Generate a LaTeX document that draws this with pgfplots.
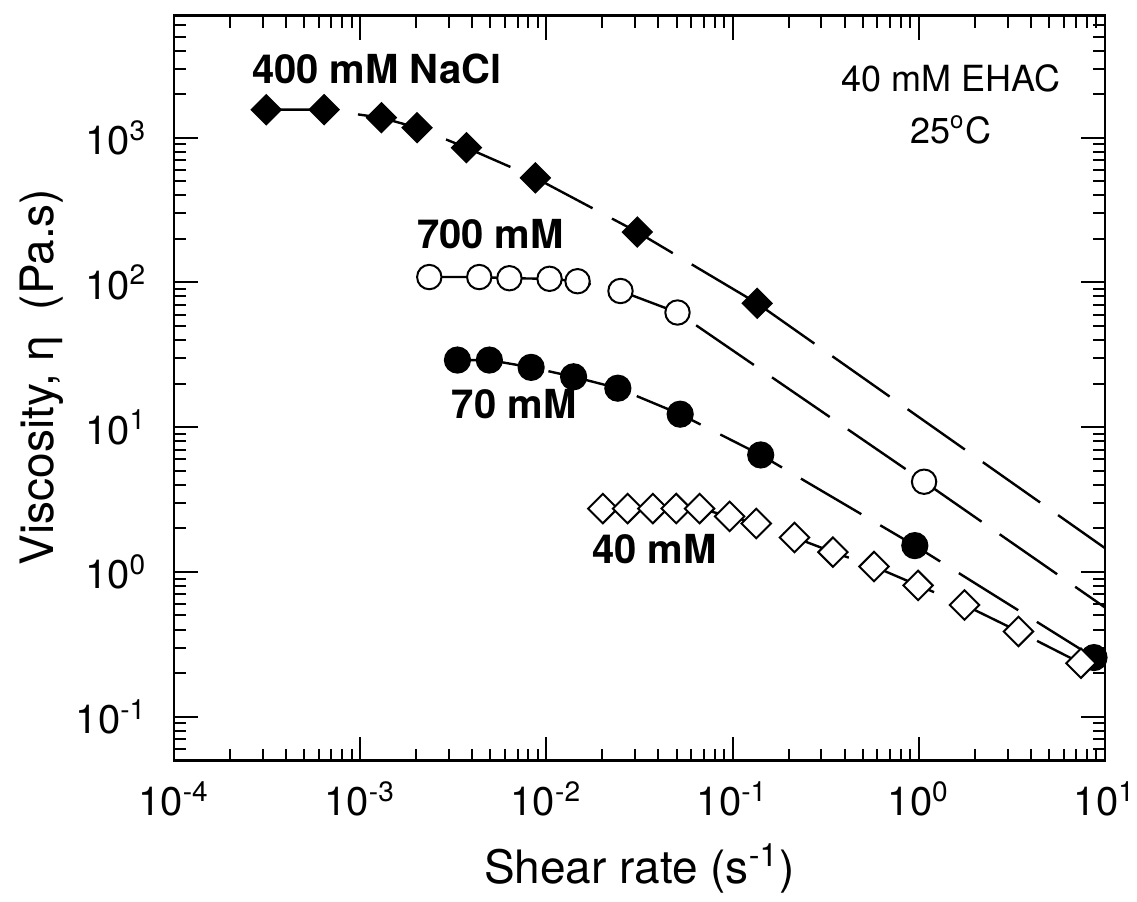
\documentclass[border=0pt]{standalone}
\usepackage{fontspec}
\setmainfont{TeX Gyre Heros}
\usepackage{pgfplots}
\pgfplotsset{compat=1.18}

% one pixel of the reference is taken as 0.25pt
\pgfplotsset{
  curve/.style={black, line width=0.6pt, dash pattern=on 17.5pt off 5.5pt},
  fdiam/.style={curve, mark=square*, mark size=2.55pt,
    mark options={solid, rotate=45, fill=black, line width=0.5pt}},
  odiam/.style={curve, mark=square*, mark size=2.6pt,
    mark options={solid, rotate=45, fill=white, line width=0.5pt}},
  fcirc/.style={curve, mark=*, mark size=3.15pt,
    mark options={solid, fill=black, line width=0.5pt}},
  ocirc/.style={curve, mark=*, mark size=3.05pt,
    mark options={solid, fill=white, line width=0.5pt}},
}
\tikzset{lab/.style={font=\bfseries\fontsize{10}{12}\selectfont, inner sep=0pt, anchor=west}}

\begin{document}
\begin{tikzpicture}
\begin{axis}[
  name=ax,
  xmode=log, ymode=log,
  scale only axis,
  width=232.75pt, height=186.25pt,
  xmin=1e-4, xmax=10,
  ymin=0.0497, ymax=6980,
  xtick={1e-4,1e-3,1e-2,1e-1,1,10},
  xticklabels={10\textsuperscript{-4},10\textsuperscript{-3},10\textsuperscript{-2},10\textsuperscript{-1},10\textsuperscript{0},10\textsuperscript{1}},
  ytick={0.1,1,10,100,1000},
  yticklabels={10\textsuperscript{-1},10\textsuperscript{0},10\textsuperscript{1},10\textsuperscript{2},10\textsuperscript{3}},
  minor xtick={2e-4,3e-4,4e-4,5e-4,6e-4,7e-4,8e-4,9e-4,
    2e-3,3e-3,4e-3,5e-3,6e-3,7e-3,8e-3,9e-3,
    0.02,0.03,0.04,0.05,0.06,0.07,0.08,0.09,
    0.2,0.3,0.4,0.5,0.6,0.7,0.8,0.9,
    2,3,4,5,6,7,8,9},
  minor ytick={0.05,0.06,0.07,0.08,0.09,
    0.2,0.3,0.4,0.5,0.6,0.7,0.8,0.9,
    2,3,4,5,6,7,8,9,
    20,30,40,50,60,70,80,90,
    200,300,400,500,600,700,800,900,
    2000,3000,4000,5000,6000},
  tick align=inside,
  major tick length=6pt,
  minor tick length=3pt,
  axis line style={line width=0.65pt},
  every tick/.style={black, line width=0.5pt},
  tick label style={font=\fontsize{10}{12}\selectfont, inner sep=0pt},
  xticklabel style={yshift=-5pt},
  yticklabel style={xshift=-6.5pt},
  label style={font=\fontsize{11.5}{13}\selectfont},
  xlabel={Shear rate (s\textsuperscript{-1})},
  ylabel={Viscosity, η\ \ (Pa.s)},
  xlabel style={at={(axis description cs:0.5,-0.165)}, anchor=base},
  ylabel style={at={(axis description cs:-0.1418,0.515)}, anchor=center},
]
% 400 mM NaCl
\addplot[fdiam] coordinates {
  (3.13e-4,1563) (6.40e-4,1563) (1.30e-3,1375) (2.02e-3,1173)
  (3.72e-3,853) (8.73e-3,528) (0.0308,223) (0.1355,71.8)};
\addplot[curve] coordinates {(0.1355,71.8) (10,1.46)};
% 700 mM
\addplot[ocirc] coordinates {
  (2.35e-3,109) (4.36e-3,109) (6.33e-3,107) (0.0104,106)
  (0.0147,102) (0.0250,87.3) (0.0506,62.0) (1.068,4.2)};
\addplot[curve] coordinates {(1.068,4.2) (10,0.568)};
% 70 mM
\addplot[fcirc] coordinates {
  (3.33e-3,29.1) (4.94e-3,29.1) (8.28e-3,25.9) (0.0140,22.3)
  (0.0242,18.6) (0.0523,12.3) (0.1416,6.43) (0.952,1.52) (8.73,0.256)};
% 40 mM
\addplot[odiam] coordinates {
  (0.0201,2.74) (0.0273,2.74) (0.0373,2.74) (0.0498,2.74) (0.0665,2.74)
  (0.0964,2.42) (0.134,2.16) (0.215,1.73) (0.346,1.37) (0.575,1.09)
  (0.991,0.807) (1.76,0.591) (3.43,0.388) (7.43,0.234)};

\node[lab] at (axis cs:2.6e-4,3000) {400 mM NaCl};
\node[lab] at (axis cs:2.0e-3,217) {700 mM};
\node[lab] at (axis cs:3.08e-3,14.4) {70 mM};
\node[lab] at (axis cs:0.01746,1.43) {40 mM};
\node[font=\fontsize{9}{11}\selectfont, inner sep=0pt] at (axis cs:1.486,2560) {40 mM EHAC};
\node[font=\fontsize{9}{11}\selectfont, inner sep=0pt] at (axis cs:1.486,1136) {25\textsuperscript{o}C};
\end{axis}
\pgfresetboundingbox
\path[use as bounding box] ([shift={(-43.5pt,-35.25pt)}]ax.south west)
  rectangle ([shift={(8pt,3.9pt)}]ax.north east);
\end{tikzpicture}
\end{document}
